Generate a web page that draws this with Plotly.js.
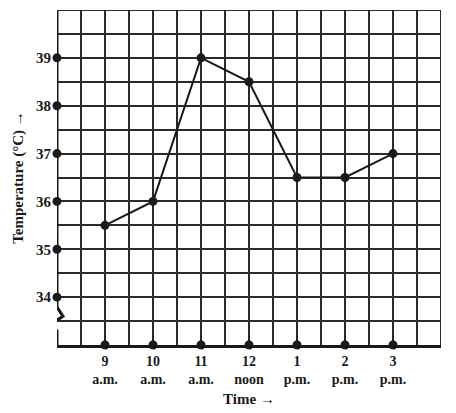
<!DOCTYPE html>
<html><head><meta charset="utf-8">
<script src="https://cdn.plot.ly/plotly-3.0.1.min.js"></script>
<style>html,body{margin:0;padding:0;background:#fff}#chart{width:456px;height:413px}</style>
</head><body><div id="chart"></div>
<script>
const hourLabels = ["9", "10", "11", "12", "1", "2", "3"];
const periodLabels = ["a.m.", "a.m.", "a.m.", "noon", "p.m.", "p.m.", "p.m."];
const temperatures = [35.5, 36, 39, 38.5, 36.5, 36.5, 37];
const yTicks = [34, 35, 36, 37, 38, 39];

const idx = hourLabels.map((_, i) => i);
const xText = hourLabels.map((h, i) => h + '<br>' + periodLabels[i]);
const ink = '#1a1a1a';
const fam = '"Liberation Serif", "Times New Roman", serif';
const fnt = {family: fam, size: 15, color: ink, weight: 'bold'};
const xfnt = {family: fam, size: 14, color: ink, weight: 'bold'};

const traces = [
  {x: idx, y: temperatures, mode: 'lines+markers', line: {color: ink, width: 2},
   marker: {color: ink, size: 9}, cliponaxis: false, hoverinfo: 'skip'},
  {x: idx, y: idx.map(() => 33), mode: 'markers', marker: {color: ink, size: 9}, cliponaxis: false, hoverinfo: 'skip'},
  {x: yTicks.map(() => -1), y: yTicks, mode: 'markers', marker: {color: ink, size: 9}, cliponaxis: false, hoverinfo: 'skip'}
];

const grid = {showgrid: true, gridcolor: '#2a2a2a', gridwidth: 2};
const layout = {
  width: 456, height: 413,
  margin: {l: 57, r: 15, t: 10, b: 68},
  paper_bgcolor: '#fff', plot_bgcolor: '#fff',
  showlegend: false,
  xaxis: Object.assign({
    range: [-1, 7], tickmode: 'array', tickvals: idx, ticktext: xText,
    ticks: '', tickfont: xfnt, zeroline: false, ticklabelstandoff: 1,
    showline: true, linecolor: ink, linewidth: 3,
    minor: Object.assign({tickmode: 'linear', tick0: 0, dtick: 0.5}, grid),
    title: {text: 'Time →', font: fnt, standoff: 8}
  }, grid),
  yaxis: Object.assign({
    range: [33, 40], tickmode: 'array', tickvals: yTicks,
    ticks: '', tickfont: fnt, zeroline: false, showline: false,
    ticklabelstandoff: 5,
    minor: Object.assign({tickmode: 'linear', tick0: 33, dtick: 0.5}, grid),
    title: {text: 'Temperature (°C) →', font: fnt, standoff: 8}
  }, grid),
  shapes: [
    {type: 'path', xref: 'x', yref: 'y', xsizemode: 'pixel', xanchor: -1,
     path: 'M0,40 L0,33.79 L6,33.6 L-6,33.44 L0,33.29 L0,33',
     line: {color: ink, width: 3}},
    {type: 'line', xref: 'x', yref: 'paper', x0: 7, x1: 7, y0: 0, y1: 1,
     line: {color: '#2a2a2a', width: 2}},
    {type: 'line', xref: 'paper', yref: 'y', x0: 0, x1: 1, y0: 40, y1: 40,
     line: {color: '#2a2a2a', width: 2}}
  ]
};
Plotly.newPlot('chart', traces, layout, {staticPlot: true});
</script></body></html>
